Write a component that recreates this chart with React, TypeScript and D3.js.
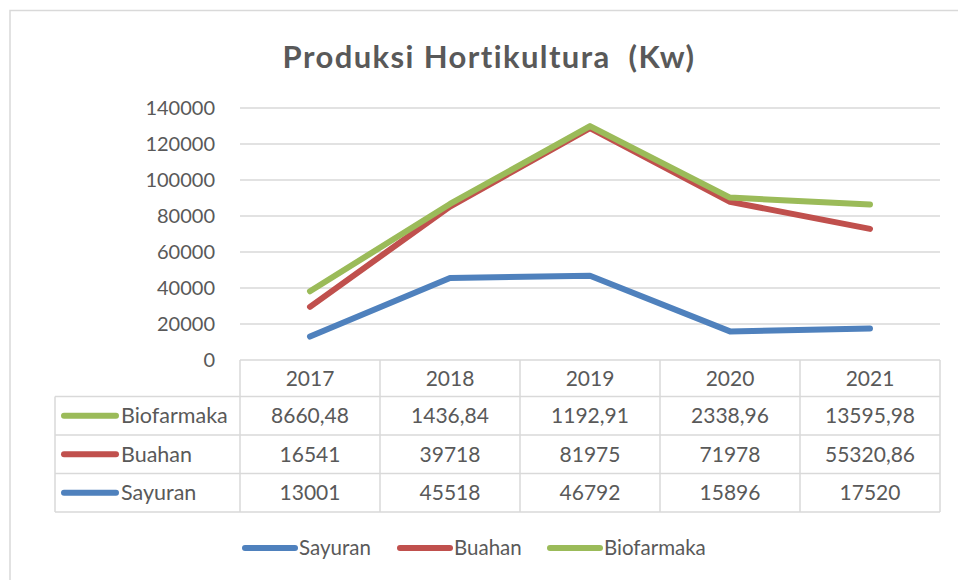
import React from 'react';
import * as d3 from 'd3';

const years = ['2017', '2018', '2019', '2020', '2021'];
const sayuran = [13001, 45518, 46792, 15896, 17520];
const buahan = [16541, 39718, 81975, 71978, 55320.86];
const biofarmaka = [8660.48, 1436.84, 1192.91, 2338.96, 13595.98];
const yTicks = [0, 20000, 40000, 60000, 80000, 100000, 120000, 140000];

const seriesNames = ['Sayuran', 'Buahan', 'Biofarmaka'];
const seriesColors: Record<string, string> = {
  Sayuran: '#4F81BD',
  Buahan: '#C0504D',
  Biofarmaka: '#9BBB59',
};
const seriesValues: Record<string, number[]> = {
  Sayuran: sayuran,
  Buahan: buahan,
  Biofarmaka: biofarmaka,
};
// table rows are listed top to bottom in reverse
const tableOrder = ['Biofarmaka', 'Buahan', 'Sayuran'];

const WIDTH = 958;
const HEIGHT = 580;
const FONT = 'Lato, "Open Sans", sans-serif';
const TEXT = '#595959';
const GRID = '#d9d9d9';
const noLig = { fontVariantLigatures: 'none' as const, whiteSpace: 'pre' as const };

const fmt = (v: number) => String(v).replace('.', ',');

const App: React.FC = () => {
  const x = d3.scaleBand<string>().domain(years).range([240, 940]).padding(0);
  const y = d3.scaleLinear().domain([0, 140000]).range([360, 108]);

  // stacked line: Excel stacks series on top of each other
  const rows = years.map((yr, i) => {
    const r: Record<string, number | string> = { year: yr };
    seriesNames.forEach((s) => (r[s] = seriesValues[s][i]));
    return r;
  });
  const stacked = d3.stack<Record<string, number | string>>().keys(seriesNames)(rows as any);

  const line = d3
    .line<d3.SeriesPoint<Record<string, number | string>>>()
    .x((d) => (x(d.data.year as string) ?? 0) + x.bandwidth() / 2)
    .y((d) => y(d[1]));

  const tableTop = 360;
  const headerH = 36.5;
  const rowH = 38.5;
  const tableLeft = 55;
  const colEdges = [...years.map((yr) => x(yr) ?? 0), 940];
  const rowEdges = d3.range(tableOrder.length + 1).map((i) => tableTop + headerH + i * rowH);

  const legendItems = [
    { name: 'Sayuran', x: 243 },
    { name: 'Buahan', x: 398 },
    { name: 'Biofarmaka', x: 548 },
  ];

  return (
    <svg width={WIDTH} height={HEIGHT} style={{ position: 'absolute', left: 0, top: 0 }}>
      <rect x={0} y={0} width={WIDTH} height={HEIGHT} fill="#fff" />
      <rect x={10} y={10.5} width={WIDTH} height={HEIGHT} fill="#fff" stroke={GRID} strokeWidth={1.5} />

      <text
        x={489}
        y={68}
        textAnchor="middle"
        fontFamily={FONT}
        fontSize={31}
        fontWeight="bold"
        letterSpacing={1.4}
        fill={TEXT}
        style={noLig}
      >
        Produksi Hortikultura  (Kw)
      </text>

      {/* grid + y labels */}
      {yTicks.map((t) => (
        <g key={t}>
          {t > 0 && <line x1={240} x2={940} y1={y(t)} y2={y(t)} stroke={GRID} strokeWidth={1.5} />}
          <text
            x={215}
            y={y(t)}
            dy="0.36em"
            textAnchor="end"
            fontFamily={FONT}
            fontSize={20}
            fill={TEXT}
          >
            {t}
          </text>
        </g>
      ))}

      {/* data table */}
      <g stroke={GRID} strokeWidth={1.5}>
        <line x1={240} x2={940} y1={tableTop} y2={tableTop} />
        {rowEdges.map((ry, i) => (
          <line key={i} x1={tableLeft} x2={940} y1={ry} y2={ry} />
        ))}
        {colEdges.map((cx, i) => (
          <line key={i} x1={cx} x2={cx} y1={tableTop} y2={rowEdges[rowEdges.length - 1]} />
        ))}
        <line x1={tableLeft} x2={tableLeft} y1={rowEdges[0]} y2={rowEdges[rowEdges.length - 1]} />
      </g>
      {years.map((yr) => (
        <text
          key={yr}
          x={(x(yr) ?? 0) + x.bandwidth() / 2}
          y={tableTop + headerH / 2}
          dy="0.36em"
          textAnchor="middle"
          fontFamily={FONT}
          fontSize={21}
          fill={TEXT}
        >
          {yr}
        </text>
      ))}
      {tableOrder.map((s, ri) => {
        const cy = rowEdges[ri] + rowH / 2;
        return (
          <g key={s}>
            <line x1={64} x2={116} y1={cy} y2={cy} stroke={seriesColors[s]} strokeWidth={6} strokeLinecap="round" />
            <text x={121} y={cy} dy="0.36em" fontFamily={FONT} fontSize={21.5} fill={TEXT} style={noLig}>
              {s}
            </text>
            {seriesValues[s].map((v, i) => (
              <text
                key={i}
                x={(x(years[i]) ?? 0) + x.bandwidth() / 2}
                y={cy}
                dy="0.36em"
                textAnchor="middle"
                fontFamily={FONT}
                fontSize={21}
                fill={TEXT}
              >
                {fmt(v)}
              </text>
            ))}
          </g>
        );
      })}

      {/* lines */}
      {stacked.map((ser) => (
        <path
          key={ser.key}
          d={line(ser) ?? ''}
          fill="none"
          stroke={seriesColors[ser.key]}
          strokeWidth={6}
          strokeLinecap="round"
          strokeLinejoin="round"
        />
      ))}

      {/* legend */}
      {legendItems.map((it) => (
        <g key={it.name}>
          <line x1={it.x + 2} x2={it.x + 52} y1={548} y2={548} stroke={seriesColors[it.name]} strokeWidth={6} strokeLinecap="round" />
          <text x={it.x + 56} y={548} dy="0.36em" fontFamily={FONT} fontSize={20.5} fill={TEXT} style={noLig}>
            {it.name}
          </text>
        </g>
      ))}
    </svg>
  );
};

export default App;
